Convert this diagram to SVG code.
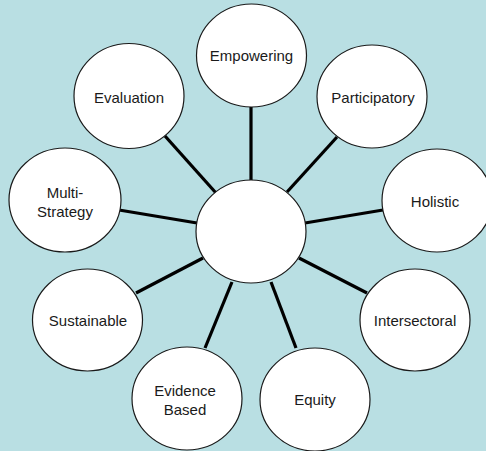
<svg xmlns="http://www.w3.org/2000/svg" width="486" height="451" viewBox="0 0 486 451">
<style>
.bg{fill:#B9DFE3}
.n ellipse{fill:#fff;stroke:#1a1a1a;stroke-width:1.2}
.n text{font-family:"Liberation Sans",Arial,sans-serif;font-size:15px;fill:#1a1a1a;text-anchor:middle}
#connectors line{stroke:#000;stroke-width:3.2;stroke-linecap:butt}
</style>
<rect class="bg" x="0" y="0" width="486" height="451"/>
<g id="connectors">
<line x1="251" y1="107" x2="251" y2="181"/>
<line x1="165" y1="136" x2="216" y2="193"/>
<line x1="337" y1="137" x2="287" y2="192"/>
<line x1="119" y1="210" x2="197" y2="223"/>
<line x1="383" y1="210" x2="305" y2="223"/>
<line x1="136" y1="293" x2="203" y2="258"/>
<line x1="367" y1="293" x2="299" y2="258"/>
<line x1="205" y1="348" x2="232" y2="282"/>
<line x1="296" y1="348" x2="271" y2="282"/>
</g>
<g id="center" class="n"><ellipse cx="251" cy="231.5" rx="55" ry="51.5"/></g>
<g id="empowering" class="n"><ellipse cx="251.5" cy="55.5" rx="55" ry="51.5"/><text x="251.5" y="61">Empowering</text></g>
<g id="evaluation" class="n"><ellipse cx="129" cy="96" rx="55" ry="52.5"/><text x="129" y="103">Evaluation</text></g>
<g id="participatory" class="n"><ellipse cx="372" cy="96.5" rx="55" ry="51.5"/><text x="373" y="103">Participatory</text></g>
<g id="multi-strategy" class="n"><ellipse cx="65" cy="200" rx="56" ry="52"/><text x="65" y="198">Multi-</text><text x="65" y="217">Strategy</text></g>
<g id="holistic" class="n"><ellipse cx="437" cy="200.5" rx="55" ry="51.5"/><text x="435" y="207">Holistic</text></g>
<g id="sustainable" class="n"><ellipse cx="87.5" cy="320" rx="55" ry="51"/><text x="88" y="326">Sustainable</text></g>
<g id="intersectoral" class="n"><ellipse cx="415" cy="320" rx="55" ry="51"/><text x="415" y="326">Intersectoral</text></g>
<g id="evidence-based" class="n"><ellipse cx="187" cy="398.5" rx="55" ry="51.5"/><text x="185" y="396">Evidence</text><text x="185" y="415">Based</text></g>
<g id="equity" class="n"><ellipse cx="315" cy="399.5" rx="55" ry="51.5"/><text x="315" y="405">Equity</text></g>
</svg>
